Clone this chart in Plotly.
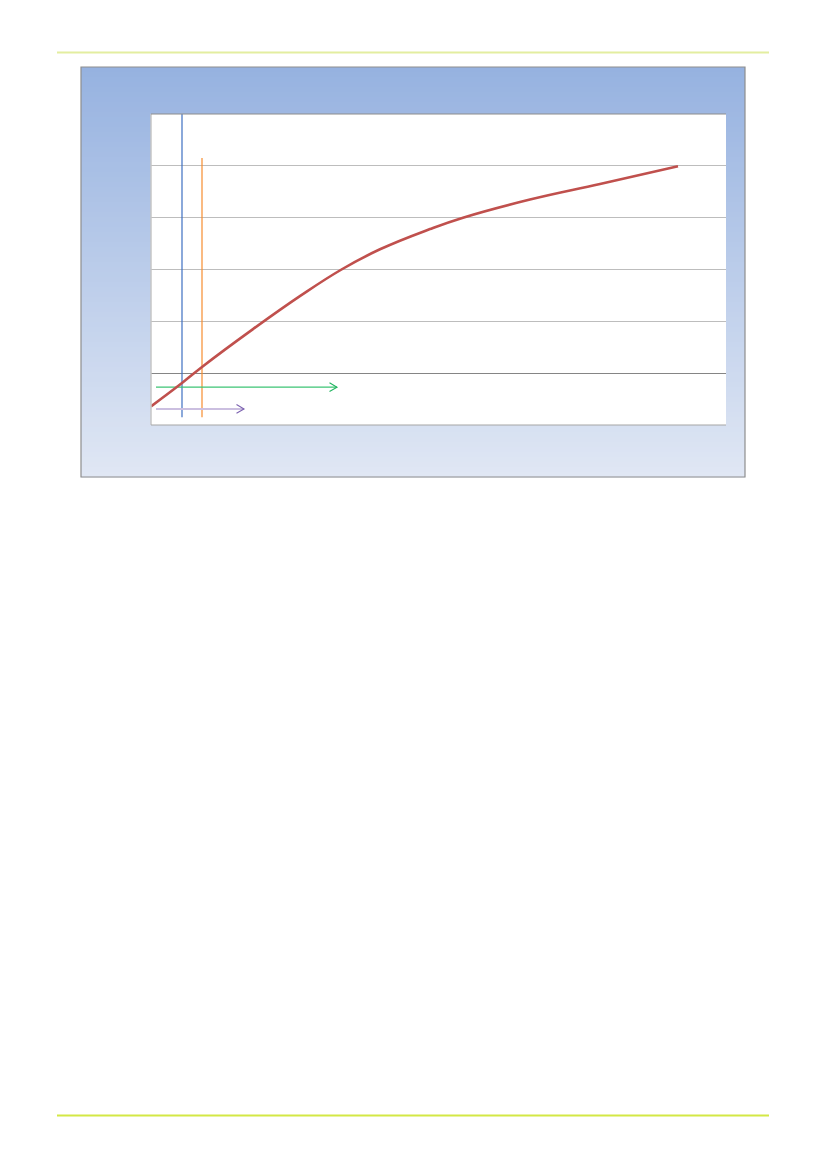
import plotly.graph_objects as go

W, H = 826, 1169
OFF = 8  # default page margin of the html body

# curve data (x in chart units, y in gridline units)
curve_x = [0, 0.62, 1.02, 2.04, 3.0, 3.81, 4.58, 5.58, 6.24, 7.58, 8.98, 10.54]
curve_y = [-0.64, -0.19, 0.12, 0.85, 1.5, 2.0, 2.39, 2.78, 3.0, 3.35, 3.65, 3.99]

# vertical markers
blue_x = 0.62
blue_y = [-0.85, 5.0]
orange_x = 1.02
orange_y = [-0.85, 4.15]

# horizontal arrows: start, end, level
green_arrow = [0.1, 3.72, -0.27]
purple_arrow = [0.1, 1.86, -0.69]

x_range = [0, 11.5]
y_range = [-1, 5]


def fx(px):
    return (px - OFF) / W


def fy(py):
    return 1 - (py - OFF) / H


fig = go.Figure()

fig.add_trace(go.Scatter(x=[blue_x, blue_x], y=blue_y, mode='lines',
                         line=dict(color='#3d6fc1', width=1.2)))
fig.add_trace(go.Scatter(x=[orange_x, orange_x], y=orange_y, mode='lines',
                         line=dict(color='#f78c2e', width=1.2)))

for arrow, shaft_col, head_col, w in [(green_arrow, '#3cc475', '#22b560', 1.3),
                                      (purple_arrow, '#cbbfe0', '#7c62b0', 2)]:
    x0, x1, yv = arrow
    fig.add_trace(go.Scatter(x=[x0, x1], y=[yv, yv], mode='lines',
                             line=dict(color=shaft_col, width=w)))
    dx, dy = 0.15, 0.085
    fig.add_trace(go.Scatter(x=[x1 - dx, x1, x1 - dx], y=[yv + dy, yv, yv - dy],
                             mode='lines', line=dict(color=head_col, width=1.1)))

fig.add_trace(go.Scatter(x=curve_x, y=curve_y, mode='lines',
                         line=dict(color='#c0504d', width=2.6, shape='spline', smoothing=1.2)))

shapes = []
# page rules
shapes.append(dict(type='line', xref='paper', yref='paper', x0=fx(57), x1=fx(769),
                   y0=fy(52.5), y1=fy(52.5), line=dict(color='#e3eea0', width=2)))
shapes.append(dict(type='line', xref='paper', yref='paper', x0=fx(57), x1=fx(769),
                   y0=fy(1115.5), y1=fy(1115.5), line=dict(color='#d3e845', width=2)))

# chart box gradient
top_c = (150, 178, 224)
bot_c = (224, 231, 244)
y_top, y_bot = 67, 477
n = 82
step = (y_bot - y_top) / n
for i in range(n):
    t = (i + 0.5) / n
    c = tuple(round(top_c[k] + (bot_c[k] - top_c[k]) * t) for k in range(3))
    shapes.append(dict(type='rect', xref='paper', yref='paper', layer='below',
                       x0=fx(81), x1=fx(745), y0=fy(y_top + i * step), y1=fy(y_top + (i + 1) * step + 0.6),
                       line=dict(width=0), fillcolor='rgb(%d,%d,%d)' % c))
shapes.append(dict(type='rect', xref='paper', yref='paper', layer='below',
                   x0=fx(81), x1=fx(745), y0=fy(67), y1=fy(477),
                   line=dict(color='#8e8e8e', width=1.2), fillcolor='rgba(0,0,0,0)'))
# plot area
shapes.append(dict(type='rect', xref='paper', yref='paper', layer='below',
                   x0=fx(151), x1=fx(726), y0=fy(114), y1=fy(425),
                   line=dict(width=0), fillcolor='white'))
shapes.append(dict(type='line', xref='paper', yref='paper', x0=fx(151), x1=fx(151),
                   y0=fy(114), y1=fy(425), line=dict(color='#c6c6c6', width=1.5)))
shapes.append(dict(type='line', xref='paper', yref='paper', x0=fx(151), x1=fx(726),
                   y0=fy(114), y1=fy(114), line=dict(color='#8c8c8c', width=1)))
shapes.append(dict(type='line', xref='paper', yref='paper', x0=fx(151), x1=fx(726),
                   y0=fy(425), y1=fy(425), line=dict(color='#a6a6a6', width=1.2)))

fig.update_layout(
    width=W, height=H,
    margin=dict(l=0, r=0, t=0, b=0),
    paper_bgcolor='white',
    plot_bgcolor='rgba(0,0,0,0)',
    showlegend=False,
    shapes=shapes,
    xaxis=dict(domain=[fx(151), fx(726)], range=x_range, showgrid=False, zeroline=False,
               showticklabels=False, ticks='', showline=False),
    yaxis=dict(domain=[fy(425), fy(114)], range=y_range, dtick=1, showgrid=True,
               gridcolor='#bdbdbd', gridwidth=1, zeroline=True, zerolinecolor='#858585',
               zerolinewidth=1, showticklabels=False, ticks='', showline=False),
)

fig.write_html("out.html", config=dict(displayModeBar=False))
